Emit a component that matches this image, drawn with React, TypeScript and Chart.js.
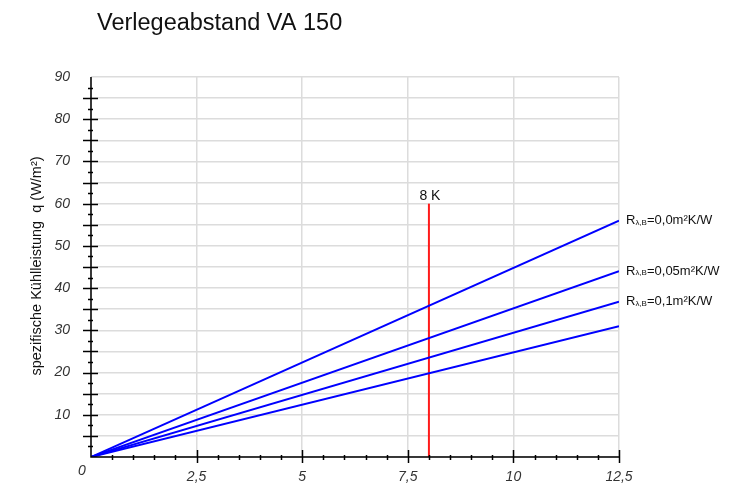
import React, { useEffect, useRef } from "react";
import { Chart, registerables } from "chart.js";

Chart.register(...registerables);

const titleText = "Verlegeabstand VA 150";
const yAxisTitle = "spezifische Kühlleistung  q (W/m²)";
const xPoints = [0, 12.5];
const seriesA = [0, 56];
const seriesB = [0, 44];
const seriesC = [0, 36.8];
const seriesD = [0, 31];
const seriesLabels = ["=0,0m²K/W", "=0,05m²K/W", "=0,1m²K/W", ""];
const markerX = [8, 8];
const markerY = [0, 60];
const markerLabel = "8 K";
const yMin = 0, yMax = 90, yGridStep = 5, yLabelStep = 10, yMinorStep = 2.5;
const xMin = 0, xMax = 12.5, xGridStep = 2.5, xMinorStep = 0.5;

const FONT = "'Liberation Sans', Arial, sans-serif";

const decorPlugin = {
  id: "decor",
  afterDraw(chart: any) {
    const ctx = chart.ctx;
    const xs = chart.scales.x;
    const ys = chart.scales.y;
    const ox = xs.getPixelForValue(0);
    const oy = ys.getPixelForValue(0);
    ctx.save();
    // title
    ctx.fillStyle = "#111";
    ctx.font = `23.5px ${FONT}`;
    ctx.textAlign = "left";
    ctx.textBaseline = "alphabetic";
    ctx.fillText(titleText, 97, 30);
    // y axis title
    ctx.save();
    ctx.translate(37, 266);
    ctx.rotate(-Math.PI / 2);
    ctx.font = `14.5px ${FONT}`;
    ctx.textAlign = "center";
    ctx.textBaseline = "middle";
    ctx.fillStyle = "#111";
    ctx.fillText(yAxisTitle, 0, 0);
    ctx.restore();
    // axis lines
    ctx.strokeStyle = "#000";
    ctx.lineWidth = 1.5;
    ctx.beginPath();
    ctx.moveTo(ox, ys.getPixelForValue(yMax));
    ctx.lineTo(ox, oy);
    ctx.lineTo(xs.getPixelForValue(xMax), oy);
    ctx.stroke();
    // y ticks
    for (let v = yMinorStep; v < yMax; v += yMinorStep) {
      const p = Math.round(ys.getPixelForValue(v)) + 0.5;
      const major = Math.abs(v / yGridStep - Math.round(v / yGridStep)) < 1e-6;
      ctx.beginPath();
      if (major) { ctx.moveTo(ox - 8, p); ctx.lineTo(ox + 7, p); }
      else { ctx.moveTo(ox - 3, p); ctx.lineTo(ox + 2, p); }
      ctx.stroke();
    }
    // x ticks
    for (let v = xMinorStep; v <= xMax + 1e-6; v += xMinorStep) {
      const p = Math.round(xs.getPixelForValue(v)) + 0.5;
      const major = Math.abs(v / xGridStep - Math.round(v / xGridStep)) < 1e-6;
      ctx.beginPath();
      if (major) { ctx.moveTo(p, oy - 7); ctx.lineTo(p, oy + 6); }
      else { ctx.moveTo(p, oy - 2); ctx.lineTo(p, oy + 3); }
      ctx.stroke();
    }
    // origin label
    ctx.fillStyle = "#333";
    ctx.font = `italic 14px ${FONT}`;
    ctx.textAlign = "center";
    ctx.textBaseline = "middle";
    ctx.fillText("0", ox - 9, oy + 14);
    // marker label
    ctx.fillStyle = "#111";
    ctx.font = `14px ${FONT}`;
    ctx.fillText(markerLabel, xs.getPixelForValue(markerX[1]) + 1, ys.getPixelForValue(markerY[1]) - 8);
    // series labels
    const ends = [seriesA, seriesB, seriesC, seriesD];
    ends.forEach((s, i) => {
      const lab = seriesLabels[i];
      if (!lab) return;
      const y = ys.getPixelForValue(s[s.length - 1]);
      let x = xs.getPixelForValue(xPoints[xPoints.length - 1]) + 7;
      ctx.textAlign = "left";
      ctx.textBaseline = "middle";
      ctx.font = `13px ${FONT}`;
      ctx.fillText("R", x, y);
      x += ctx.measureText("R").width;
      ctx.font = `8px ${FONT}`;
      ctx.fillText("λ,B", x, y + 2);
      x += ctx.measureText("λ,B").width;
      ctx.font = `13px ${FONT}`;
      ctx.fillText(lab, x, y);
    });
    ctx.restore();
  },
};

function pts(ys: number[], xsArr: number[]) {
  return ys.map((y, i) => ({ x: xsArr[i], y }));
}

export default function App() {
  const ref = useRef<HTMLCanvasElement>(null);
  useEffect(() => {
    if (!ref.current) return;
    const lineStyle = {
      borderColor: "#0000ff",
      borderWidth: 2,
      pointRadius: 0,
      fill: false,
      tension: 0,
    };
    const chart = new Chart(ref.current, {
      type: "line",
      data: {
        datasets: [
          { ...lineStyle, data: pts(seriesA, xPoints) },
          { ...lineStyle, data: pts(seriesB, xPoints) },
          { ...lineStyle, data: pts(seriesC, xPoints) },
          { ...lineStyle, data: pts(seriesD, xPoints) },
          { ...lineStyle, borderColor: "#ff1a1a", data: pts(markerY, markerX) },
        ],
      },
      options: {
        animation: false,
        responsive: false,
        layout: { padding: { top: 77, right: 122, bottom: 0, left: 0 } },
        plugins: { legend: { display: false }, tooltip: { enabled: false }, title: { display: false } },
        scales: {
          x: {
            type: "linear",
            min: xMin,
            max: xMax,
            border: { display: false },
            grid: { color: "#dcdcdc", lineWidth: 1.5, drawTicks: false },
            ticks: {
              stepSize: xGridStep,
              padding: 12,
              color: "#333",
              font: { family: FONT, size: 14, style: "italic" },
              maxRotation: 0,
              callback: (v: any) => (v === 0 ? "" : String(v).replace(".", ",")),
            },
            afterFit: (s: any) => { s.height = 32; },
          },
          y: {
            type: "linear",
            min: yMin,
            max: yMax,
            border: { display: false },
            grid: { color: "#dcdcdc", lineWidth: 1.5, drawTicks: false },
            ticks: {
              stepSize: yGridStep,
              padding: 21,
              color: "#333",
              font: { family: FONT, size: 14, style: "italic" },
              callback: (v: any) => (v % yLabelStep === 0 && v !== 0 ? String(v) : ""),
            },
            afterFit: (s: any) => { s.width = 91; },
          },
        },
      },
      plugins: [decorPlugin],
    } as any);
    return () => chart.destroy();
  }, []);
  return (
    <canvas
      ref={ref}
      width={741}
      height={489}
      style={{ position: "fixed", left: 0, top: 0, width: 741, height: 489, background: "#fff" }}
    />
  );
}
